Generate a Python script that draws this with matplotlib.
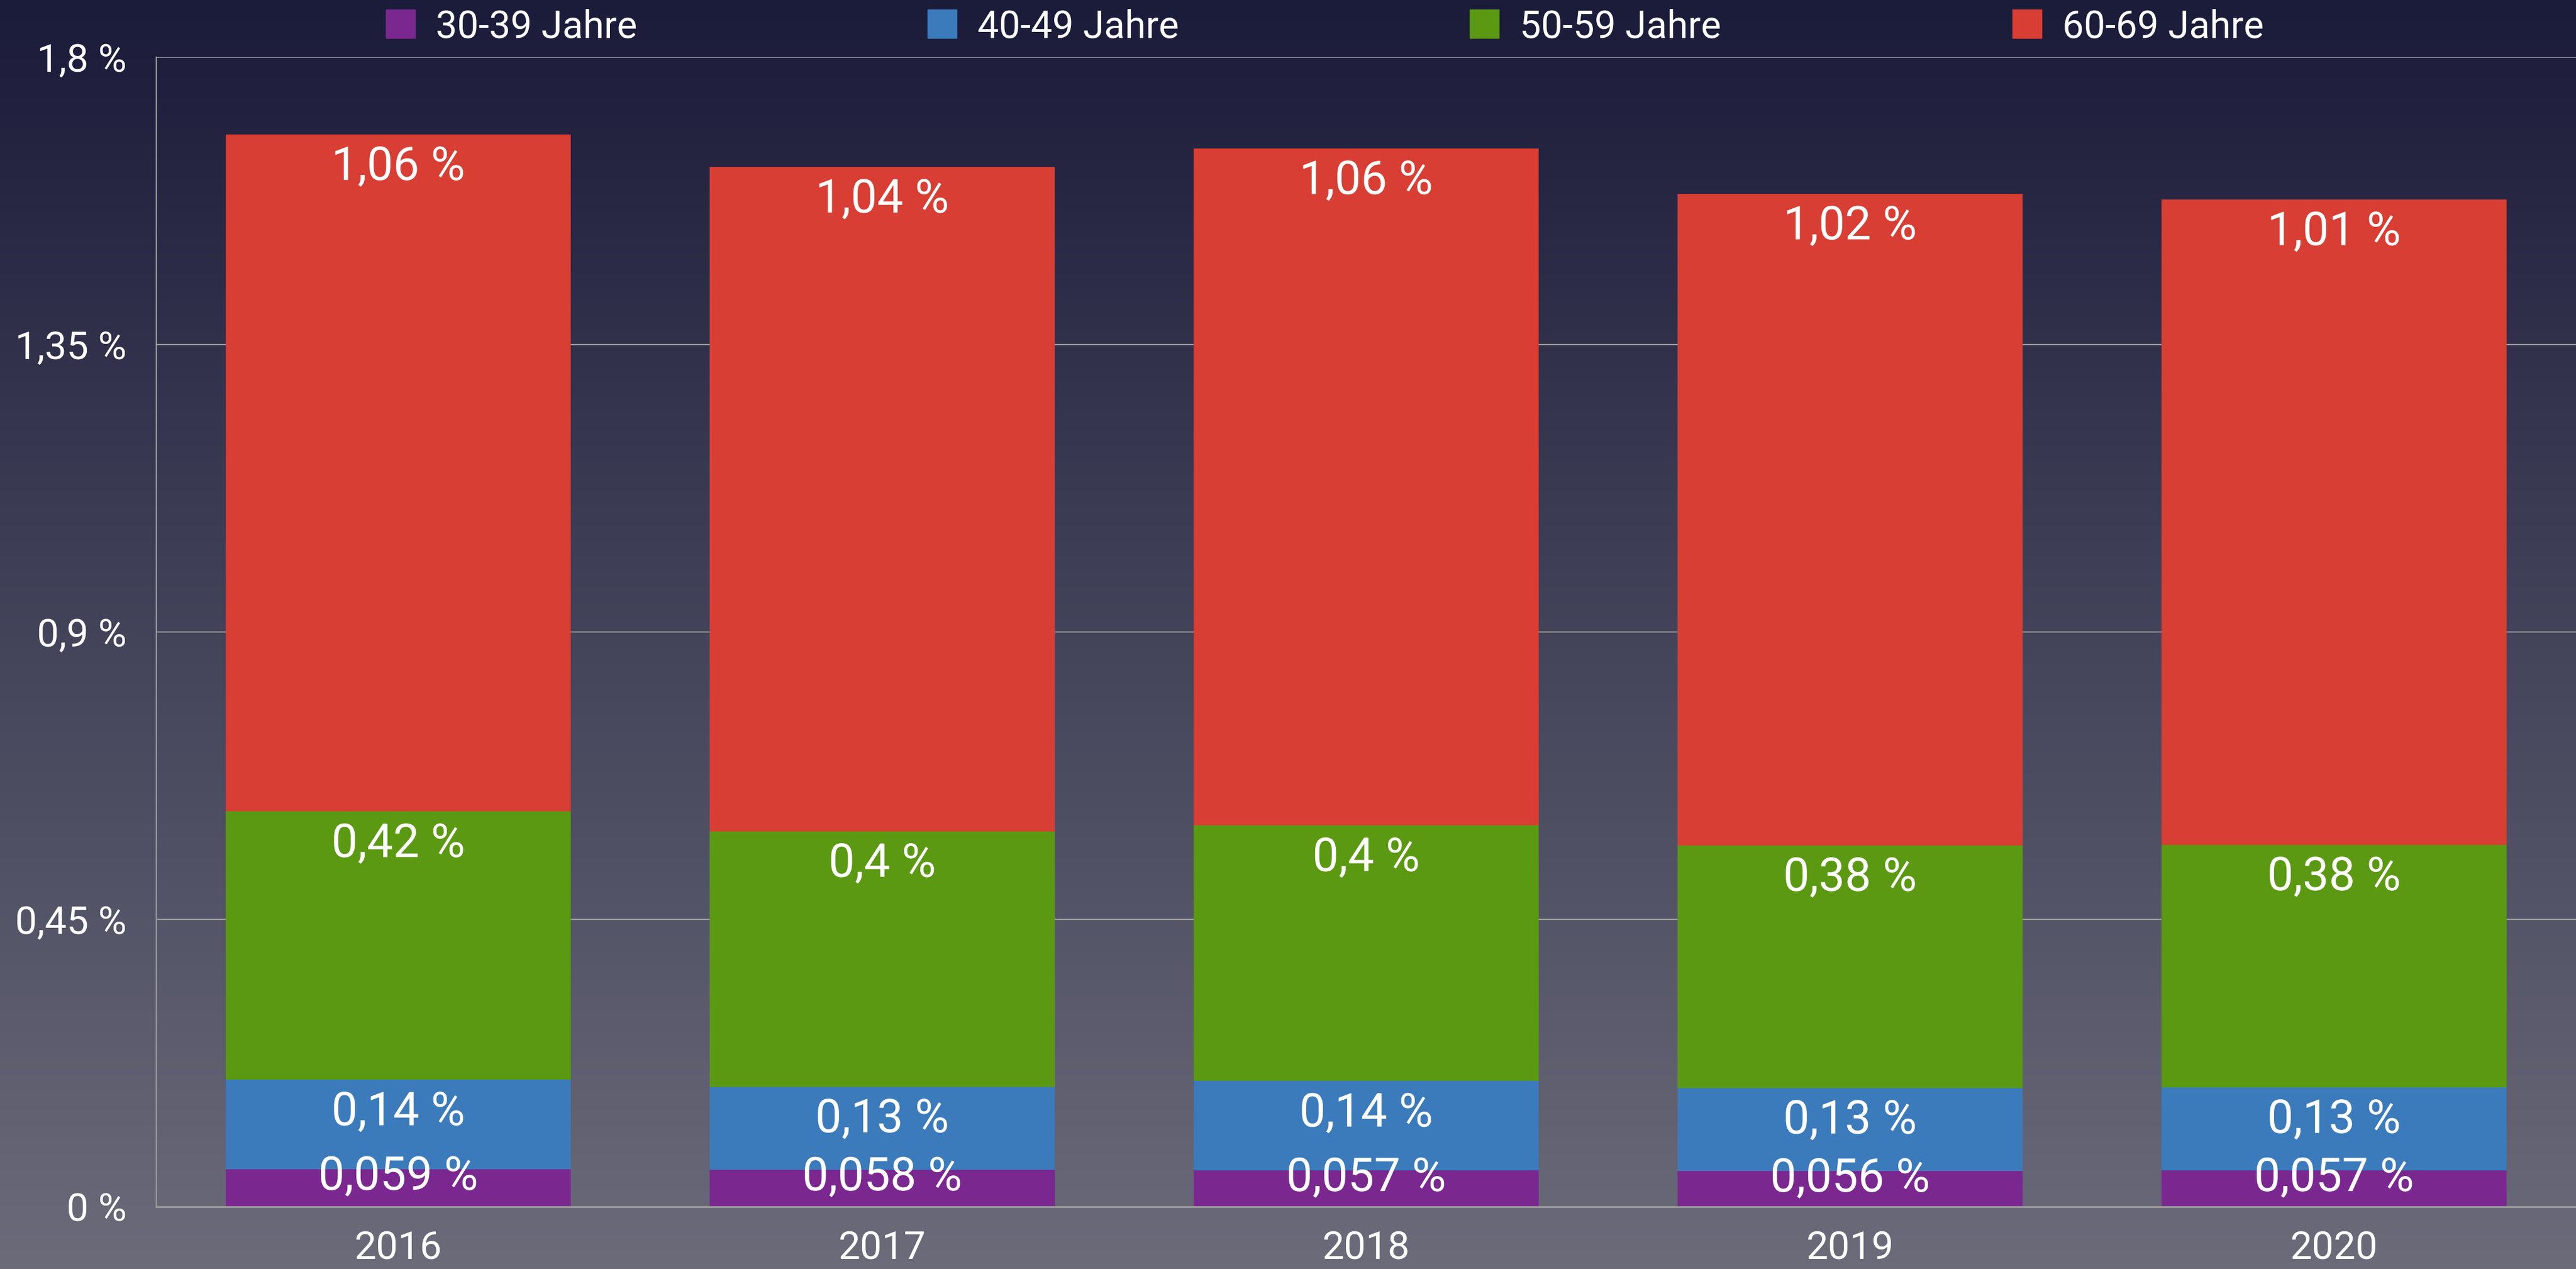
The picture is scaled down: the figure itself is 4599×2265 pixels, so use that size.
import matplotlib
matplotlib.use("Agg")
import matplotlib.pyplot as plt
import matplotlib.patheffects as pe
import numpy as np

plt.rcParams['font.family'] = ['Roboto', 'DejaVu Sans']

years = ['2016', '2017', '2018', '2019', '2020']
age_groups = ['30-39 Jahre', '40-49 Jahre', '50-59 Jahre', '60-69 Jahre']
v_30_39 = [0.059, 0.058, 0.057, 0.056, 0.057]
v_40_49 = [0.14, 0.13, 0.14, 0.13, 0.13]
v_50_59 = [0.42, 0.40, 0.40, 0.38, 0.38]
v_60_69 = [1.06, 1.04, 1.06, 1.02, 1.01]
label_30_39 = ['0,059 %', '0,058 %', '0,057 %', '0,056 %', '0,057 %']
label_40_49 = ['0,14 %', '0,13 %', '0,14 %', '0,13 %', '0,13 %']
label_50_59 = ['0,42 %', '0,4 %', '0,4 %', '0,38 %', '0,38 %']
label_60_69 = ['1,06 %', '1,04 %', '1,06 %', '1,02 %', '1,01 %']
y_ticks = [0, 0.45, 0.9, 1.35, 1.8]
y_tick_labels = ['0 %', '0,45 %', '0,9 %', '1,35 %', '1,8 %']

colors = ['#7b2790', '#3b7bbb', '#5b9912', '#d83e33']
series = [v_30_39, v_40_49, v_50_59, v_60_69]
labels = [label_30_39, label_40_49, label_50_59, label_60_69]
# offset (points) of value label below the top of each segment
label_offsets = [-10, -42, -42, -42]

W, H = 4599, 2265
fig = plt.figure(figsize=(W / 100, H / 100), dpi=100)

# background gradient
bg = fig.add_axes([0, 0, 1, 1], zorder=-10)
top = np.array([27, 27, 58]) / 255
bot = np.array([107, 107, 122]) / 255
t = np.linspace(0, 1, 256)[:, None]
grad = top * (1 - t) + bot * t
bg.imshow(grad[:, None, :].repeat(2, axis=1), aspect='auto', extent=[0, 1, 0, 1])
bg.axis('off')

ax = fig.add_axes([279 / W, 1 - 2154 / H, 1 - 279 / W, (2154 - 102) / H])
ax.set_facecolor('none')

x = np.arange(len(years))
bottom = np.zeros(len(years))
for vals, col, labs, off in zip(series, colors, labels, label_offsets):
    ax.bar(x, vals, width=0.714, bottom=bottom, color=col, zorder=3)
    tops = bottom + np.array(vals)
    for xi, yt, lab in zip(x, tops, labs):
        txt = ax.annotate(lab, (xi, yt), xytext=(0, off), textcoords='offset points',
                          ha='center', va='center', color='white', fontsize=60,
                          zorder=5)
        txt.set_path_effects([pe.SimpleLineShadow(offset=(1.5, -1.5), alpha=0.3),
                              pe.Normal()])
    bottom = tops

ax.set_xlim(-0.5, 4.5)
ax.set_ylim(0, 1.8)
ax.set_yticks(y_ticks)
ax.set_yticklabels(y_tick_labels)
ax.set_xticks(x)
ax.set_xticklabels(years)
ax.tick_params(axis='y', length=0, pad=38, labelsize=50, labelcolor='white')
ax.tick_params(axis='x', length=0, pad=30, labelsize=50, labelcolor='white')
ax.grid(axis='y', color='#9a9a9a', linewidth=1.6, zorder=1)
ax.set_axisbelow(True)
for s in ['top', 'right']:
    ax.spines[s].set_visible(False)
ax.spines['left'].set_color('#9a9a9a')
ax.spines['left'].set_linewidth(1.6)
ax.spines['bottom'].set_color('#9a9a9a')
ax.spines['bottom'].set_linewidth(2.4)
ax.spines['bottom'].set_zorder(4)

# legend along the top
leg_x = [689, 1656, 2624, 3593]
for lx, col, name in zip(leg_x, colors, age_groups):
    fig.patches.append(plt.Rectangle((lx / W, 1 - 68 / H), 52 / W, 51 / H,
                                     transform=fig.transFigure, color=col))
    fig.text((lx + 89) / W, 1 - 48 / H, name, ha='left', va='center',
             color='white', fontsize=49)

fig.savefig('out.png', dpi=100)
